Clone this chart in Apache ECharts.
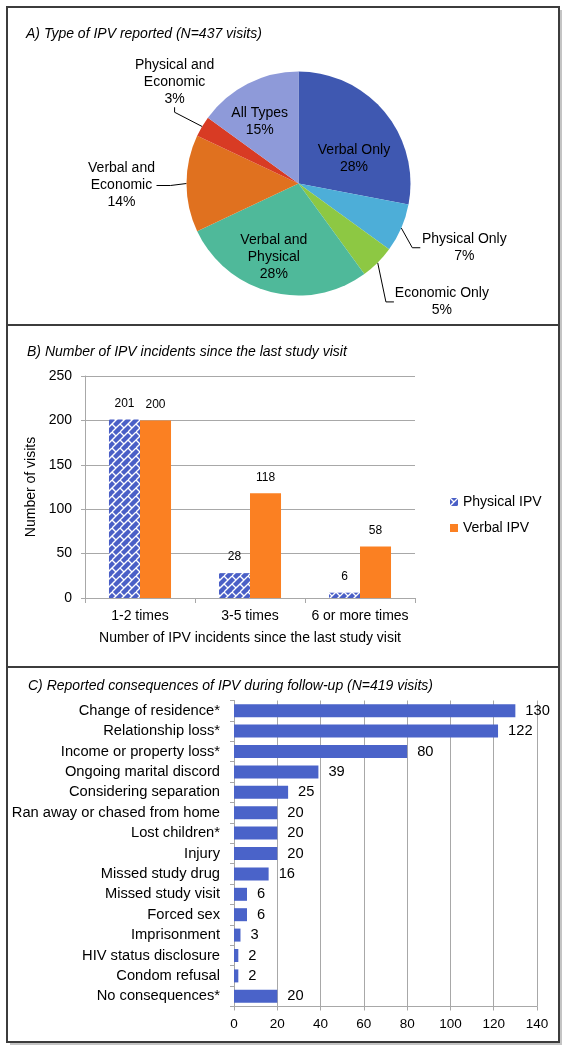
<!DOCTYPE html>
<html>
<head>
<meta charset="utf-8">
<script src="https://cdn.jsdelivr.net/npm/echarts@6/dist/echarts.min.js"></script>
<style>
html,body{margin:0;padding:0;background:#fff;}
#chart{width:566px;height:1050px;}
</style>
</head>
<body>
<div id="chart"></div>
<script>
// ---------- DATA ----------
const pieCategories = ['Verbal Only','Physical Only','Economic Only','Verbal and Physical','Verbal and Economic','Physical and Economic','All Types'];
const piePercents = [28, 7, 5, 28, 14, 3, 15];

const incidentCategories = ['1-2 times','3-5 times','6 or more times'];
const physicalIPV = [201, 28, 6];
const verbalIPV = [200, 118, 58];
const incidentTicks = [0, 50, 100, 150, 200, 250];

const consequenceCategories = ['Change of residence*','Relationship loss*','Income or property loss*','Ongoing marital discord','Considering separation','Ran away or chased from home','Lost children*','Injury','Missed study drug','Missed study visit','Forced sex','Imprisonment','HIV status disclosure','Condom refusal','No consequences*'];
const consequenceCounts = [130, 122, 80, 39, 25, 20, 20, 20, 16, 6, 6, 3, 2, 2, 20];
const consequenceTicks = [0, 20, 40, 60, 80, 100, 120, 140];

// ---------- STYLE ----------
const FONT = "'Liberation Sans', Arial, sans-serif";
const pieColors = ['#3F58B1','#4DAED8','#8DC843','#4FB99A','#E0711F','#D83B24','#8E9AD9'];
const gridGray = '#A8A8A8';

function makePattern(){
  const S = 16;
  const c = document.createElement('canvas');
  c.width = S; c.height = S;
  const g = c.getContext('2d');
  g.fillStyle = '#4A5FC6';
  g.fillRect(0,0,S,S);
  g.strokeStyle = '#ffffff';
  g.lineWidth = 1.3;
  for (let cc = -16; cc <= 40; cc += 8) {
    g.beginPath();
    g.moveTo(cc + 16, -16);
    g.lineTo(cc - 16, 16);
    g.stroke();
    const off = (Math.abs(cc / 8) % 2 === 1) ? 8 : 0;
    for (let d = -64; d <= 64; d += 16) {
      const dd = d + off;
      const x = (cc + dd) / 2, y = (cc - dd) / 2;
      g.beginPath();
      g.moveTo(x, y);
      g.lineTo(x + 4, y + 4);
      g.stroke();
    }
  }
  return c;
}
const patternCanvas = makePattern();

function pieLines(name){ return name.replace(' and ', ' and\n').split('\n'); }

const insideOffsets = {0: [10, 13], 3: [-10, 16], 6: [-12, -9]};
const outsideCfg = {
  1: {len: 12, len2: 8, w: 88, dx: -5, dy: 15},
  2: {len: 30, len2: 8, w: 96, dx: -18, dy: 18},
  4: {len: 14, len2: 14, w: 70, dx: 3, dy: 2},
  5: {len: 25, len2: 5, w: 82, dx: 45, dy: -32}
};

const pieData = pieCategories.map((n, i) => {
  const item = {name: n, value: piePercents[i], itemStyle: {color: pieColors[i]}};
  if (insideOffsets[i]) {
    item.label = {position: 'inside', offset: insideOffsets[i]};
    item.labelLine = {show: false};
  } else {
    const o = outsideCfg[i];
    item.label = {position: 'outside', rich: {c: {width: o.w, align: 'center', fontSize: 14, lineHeight: 17, color: '#000', fontFamily: FONT}}};
    item.labelLine = {show: true, length: o.len, length2: o.len2};
  }
  return item;
});

const option = {
  animation: false,
  textStyle: {fontFamily: FONT, color: '#000'},
  graphic: [
    {type: 'polyline', shape: {points: [[561, 10], [561, 1044], [10, 1044]]}, style: {fill: 'none', stroke: '#c4c4c4', lineWidth: 2}},
    {type: 'rect', shape: {x: 7, y: 7, width: 552, height: 1035}, style: {fill: 'none', stroke: '#3c3c3c', lineWidth: 2}},
    {type: 'line', shape: {x1: 7, y1: 325, x2: 559, y2: 325}, style: {stroke: '#3c3c3c', lineWidth: 2}},
    {type: 'line', shape: {x1: 7, y1: 667, x2: 559, y2: 667}, style: {stroke: '#3c3c3c', lineWidth: 2}}
  ],
  title: [
    {text: 'A) Type of IPV reported (N=437 visits)', left: 21, top: 22, textStyle: {fontSize: 14, fontStyle: 'italic', fontWeight: 'normal', color: '#000', fontFamily: FONT}},
    {text: 'B) Number of IPV incidents since the last study visit', left: 22, top: 340, textStyle: {fontSize: 14, fontStyle: 'italic', fontWeight: 'normal', color: '#000', fontFamily: FONT}},
    {text: 'C) Reported consequences of IPV during follow-up (N=419 visits)', left: 23, top: 674, textStyle: {fontSize: 14, fontStyle: 'italic', fontWeight: 'normal', color: '#000', fontFamily: FONT}}
  ],
  legend: {
    data: ['Physical IPV', 'Verbal IPV'],
    orient: 'vertical', left: 445, top: 490,
    itemWidth: 8, itemHeight: 8, itemGap: 12, icon: 'rect',
    textStyle: {fontSize: 14, color: '#000', fontFamily: FONT}
  },
  grid: [
    {left: 85, top: 376, width: 330, height: 222, containLabel: false},
    {left: 234, top: 700.5, width: 303, height: 306, containLabel: false}
  ],
  xAxis: [
    {
      type: 'category', gridIndex: 0, data: incidentCategories,
      axisLine: {lineStyle: {color: gridGray}},
      axisTick: {show: true, length: 5, lineStyle: {color: gridGray}},
      axisLabel: {fontSize: 14, color: '#000', margin: 11, interval: 0, fontFamily: FONT},
      name: 'Number of IPV incidents since the last study visit',
      nameLocation: 'middle', nameGap: 33,
      nameTextStyle: {fontSize: 14, color: '#000', fontFamily: FONT}
    },
    {
      type: 'value', gridIndex: 1,
      min: consequenceTicks[0], max: consequenceTicks[consequenceTicks.length - 1],
      interval: consequenceTicks[1] - consequenceTicks[0],
      axisLine: {show: true, lineStyle: {color: gridGray}},
      axisTick: {show: true, length: 4, lineStyle: {color: gridGray}},
      splitLine: {show: true, lineStyle: {color: gridGray}},
      axisLabel: {fontSize: 13.5, color: '#000', margin: 11, fontFamily: FONT}
    }
  ],
  yAxis: [
    {
      type: 'value', gridIndex: 0,
      min: incidentTicks[0], max: incidentTicks[incidentTicks.length - 1],
      interval: incidentTicks[1] - incidentTicks[0],
      axisLine: {show: true, lineStyle: {color: gridGray}},
      axisTick: {show: true, length: 4, lineStyle: {color: gridGray}},
      splitLine: {show: true, lineStyle: {color: gridGray}},
      axisLabel: {fontSize: 14, color: '#000', margin: 13, fontFamily: FONT},
      name: 'Number of visits', nameLocation: 'middle', nameGap: 37,
      nameTextStyle: {fontSize: 14, color: '#000', fontFamily: FONT}
    },
    {
      type: 'category', gridIndex: 1, data: consequenceCategories, inverse: true,
      axisLine: {show: true, lineStyle: {color: gridGray}},
      axisTick: {show: true, length: 4, lineStyle: {color: gridGray}},
      axisLabel: {fontSize: 14.7, color: '#000', margin: 14, fontFamily: FONT}
    }
  ],
  series: [
    {
      type: 'pie', center: [298.5, 183.5], radius: 112, startAngle: 90, clockwise: true,
      avoidLabelOverlap: false,
      data: pieData,
      label: {
        fontSize: 14, lineHeight: 17, color: '#000', fontFamily: FONT,
        formatter: p => {
          const lines = pieLines(p.name).concat([p.value + '%']);
          if (outsideCfg[p.dataIndex]) return lines.map(l => '{c|' + l + '}').join('\n');
          return lines.join('\n');
        }
      },
      labelLine: {lineStyle: {color: '#000', width: 1}, smooth: false},
      labelLayout: params => {
        const o = outsideCfg[params.dataIndex];
        if (!o) return {};
        return {
          x: params.labelRect.x + o.dx,
          y: params.labelRect.y + o.dy,
          align: 'left', verticalAlign: 'top'
        };
      }
    },
    {
      type: 'bar', name: 'Physical IPV', xAxisIndex: 0, yAxisIndex: 0,
      data: physicalIPV, barGap: '0%', barCategoryGap: '43.6%',
      itemStyle: {color: {image: patternCanvas, repeat: 'repeat'}},
      label: {show: true, position: 'top', distance: 10, fontSize: 12, color: '#000', fontFamily: FONT}
    },
    {
      type: 'bar', name: 'Verbal IPV', xAxisIndex: 0, yAxisIndex: 0,
      data: verbalIPV, barGap: '0%', barCategoryGap: '43.6%',
      itemStyle: {color: '#FB8022'},
      label: {show: true, position: 'top', distance: 10, fontSize: 12, color: '#000', fontFamily: FONT}
    },
    {
      type: 'bar', name: 'Consequences', xAxisIndex: 1, yAxisIndex: 1,
      data: consequenceCounts, barWidth: 13,
      itemStyle: {color: '#4A63C9'},
      label: {show: true, position: 'right', distance: 10, fontSize: 14.7, color: '#000', fontFamily: FONT}
    }
  ]
};

const chart = echarts.init(document.getElementById('chart'), null, {renderer: 'canvas'});
chart.setOption(option);
</script>
</body>
</html>
